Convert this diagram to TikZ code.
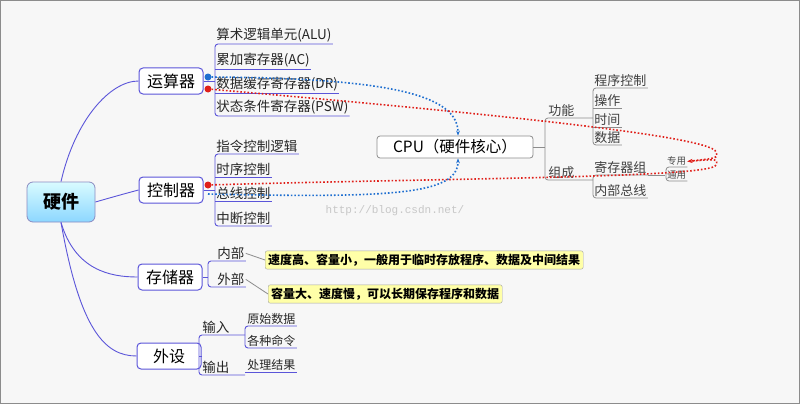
\documentclass[tikz,border=0pt]{standalone}
\usepackage{fontspec}
\setmainfont{Noto Sans CJK SC}
\newfontfamily\monof{Liberation Mono}
\usetikzlibrary{arrows.meta}
\definecolor{pur}{HTML}{5B55D9}
\definecolor{gl}{HTML}{8C8C8C}
\definecolor{dblue}{HTML}{1F6FD0}
\definecolor{dred}{HTML}{E0201A}
\definecolor{yel}{HTML}{FFFFA8}
\tikzset{
  bx/.style={draw=pur,line width=1pt,rounded corners=4pt,fill=white,minimum width=64pt,minimum height=26pt,font=\fontsize{16}{16}\selectfont,inner sep=2pt},
  it/.style={anchor=south west,inner sep=1.2pt,font=\fontsize{13.5}{14}\selectfont,text=black!85},
  git/.style={anchor=south west,inner sep=1.2pt,font=\fontsize{13}{14}\selectfont,text=black!75},
  sit/.style={anchor=south west,inner sep=1pt,font=\fontsize{9.5}{10}\selectfont,text=black!70},
  pl/.style={draw=pur,line width=0.9pt,rounded corners=3pt},
  gln/.style={draw=gl,line width=0.8pt,rounded corners=3pt},
  note/.style={draw=black!35,fill=yel,rounded corners=2pt,inner sep=3pt,anchor=west,font=\fontsize{12}{12}\bfseries\selectfont},
  bdot/.style={draw=dblue,dotted,line width=1.6pt,-{Stealth[length=5pt]}},
  rdot/.style={draw=dred,dotted,line width=1.6pt,-{Stealth[length=5pt]}},
}
\begin{document}
\begin{tikzpicture}[x=1pt,y=-1pt]
\fill[black!3] (0,0) rectangle (800,404);
\draw[black!45,line width=1pt] (0.5,0.5) rectangle (799.5,403.5);
\useasboundingbox (0,0) rectangle (800,404);
% root
\node[draw=blue!30!gray!70,line width=0.8pt,rounded corners=6pt,top color=blue!10!cyan!15,bottom color=blue!35!cyan!45,minimum width=68pt,minimum height=40pt,font=\fontsize{18}{18}\bfseries\selectfont] (hw) at (61,202) {硬件};
\node[bx] (alu) at (171,81) {运算器};
\node[bx] (ctl) at (171,190) {控制器};
\node[bx] (mem) at (170,277) {存储器};
\node[bx] (per) at (169,356) {外设};
\draw[pur,line width=0.9pt] (hw.north) .. controls (75,120) and (110,81) .. (alu.west);
\draw[pur,line width=0.9pt] (hw.east) .. controls (120,195) .. (ctl.west);
\draw[pur,line width=0.9pt] (hw.south) .. controls (75,270) and (110,277) .. (mem.west);
\draw[pur,line width=0.9pt] (hw.south) .. controls (80,330) and (105,356) .. (per.west);
% ALU items
\node[it] (a1) at (215,44) {算术逻辑单元(ALU)};
\node[it] (a2) at (215,69) {累加寄存器(AC)};
\node[it] (a3) at (215,93) {数据缓存寄存器(DR)};
\node[it] (a4) at (215,116) {状态条件寄存器(PSW)};
\draw[pl] (alu.east) -- (215,81);
\draw[pl] (a1.south east) -- (215,44) -- (215,116) -- (a4.south east);
\draw[pur,line width=0.9pt] (215,69) -- (a2.south east) (215,93) -- (a3.south east);
% Control items
\node[it] (c1) at (215,154) {指令控制逻辑};
\node[it] (c2) at (215,177) {时序控制};
\node[it] (c3) at (215,201) {总线控制};
\node[it] (c4) at (215,226) {中断控制};
\draw[pl] (ctl.east) -- (215,190);
\draw[pl] (c1.south east) -- (215,154) -- (215,226) -- (c4.south east);
\draw[pur,line width=0.9pt] (215,177) -- (c2.south east) (215,201) -- (c3.south east);
% Memory
\node[it] (m1) at (216,261) {内部};
\node[it] (m2) at (216,287) {外部};
\draw[pl] (mem.east) -- (208,277);
\draw[pl] (m1.south east) -- (208,261) -- (208,287) -- (m2.south east);
\node[note] (n1) at (265,260) {速度高、容量小，一般用于临时存放程序、数据及中间结果};
\node[note] (n2) at (268,294) {容量大、速度慢，可以长期保存程序和数据};
\draw[gl,line width=0.8pt] (m1.east) -- (n1.west);
\draw[gl,line width=0.8pt] (m2.east) -- (n2.west);
% Peripheral
\node[it] (p1) at (201,335) {输入};
\node[it] (p2) at (201,375) {输出};
\draw[pl] (per.east) -- (199,356);
\draw[pl] (245,335) -- (199,335) -- (199,375) -- (245,375);
\node[it,font=\fontsize{12}{12}\selectfont] (p11) at (246,326) {原始数据};
\node[it,font=\fontsize{12}{12}\selectfont] (p12) at (246,348) {各种命令};
\node[it,font=\fontsize{12}{12}\selectfont] (p21) at (246,372) {处理结果};
\draw[pl] (p11.south east) -- (245,326) -- (245,348) -- (p12.south east);
\draw[pur,line width=0.9pt] (245,372) -- (p21.south east);
% CPU
\node[draw=gl,line width=0.8pt,rounded corners=3pt,fill=white,minimum width=156pt,minimum height=22pt,font=\fontsize{15.5}{15.5}\selectfont] (cpu) at (455,147) {CPU（硬件核心）};
\node[git] (f) at (547,118) {功能};
\node[git] (z) at (547,180) {组成};
\draw[gln] (cpu.east) -- (545,147);
\draw[gln] (593,118) -- (545,118) -- (545,180) -- (593,180);
\node[git] (f1) at (593,88) {程序控制};
\node[git] (f2) at (593,108) {操作};
\node[git] (f3) at (593,127) {时间};
\node[git] (f4) at (593,145) {数据};
\draw[gln] (f1.south east) -- (593,88) -- (593,145) -- (f4.south east);
\draw[gl,line width=0.8pt] (593,108) -- (f2.south east) (593,127) -- (f3.south east);
\node[git] (z1) at (593,175) {寄存器组};
\node[git] (z2) at (593,198) {内部总线};
\draw[gln] (z1.south east) -- (593,175) -- (593,198) -- (z2.south east);
\draw[gl,line width=0.8pt] (z1.south east) -- (665,175);
\node[sit] (zy) at (666,167) {专用};
\node[sit] (tz) at (666,181) {通用};
\draw[gln] (zy.south east) -- (666,167) -- (666,181) -- (tz.south east);
% watermark
\node[font=\monof\fontsize{11}{11}\selectfont,text=black!22] (wm) at (395,211) {http://blog.csdn.net/};
% dots & dotted links
\fill[dblue] (208,77) circle (3.5pt) coordinate (bd);
\fill[dred] (208,89) circle (3.5pt) coordinate (rd1);
\fill[dred] (208,185) circle (3.5pt) coordinate (rd2);
\coordinate (bd2) at (208,194);
\draw[bdot] (bd) .. controls (390,78) and (458,95) .. ([xshift=3pt]cpu.north);
\draw[bdot] (bd2) .. controls (390,198) and (458,195) .. ([xshift=3pt]cpu.south);
\draw[rdot] (rd1) .. controls (450,110) and (712,135) .. (716,152) .. controls (718,158) .. (zy.east);
\draw[rdot] (rd2) .. controls (450,178) and (712,178) .. (716,165) .. controls (718,159) .. (zy.east);
\end{tikzpicture}
\end{document}
